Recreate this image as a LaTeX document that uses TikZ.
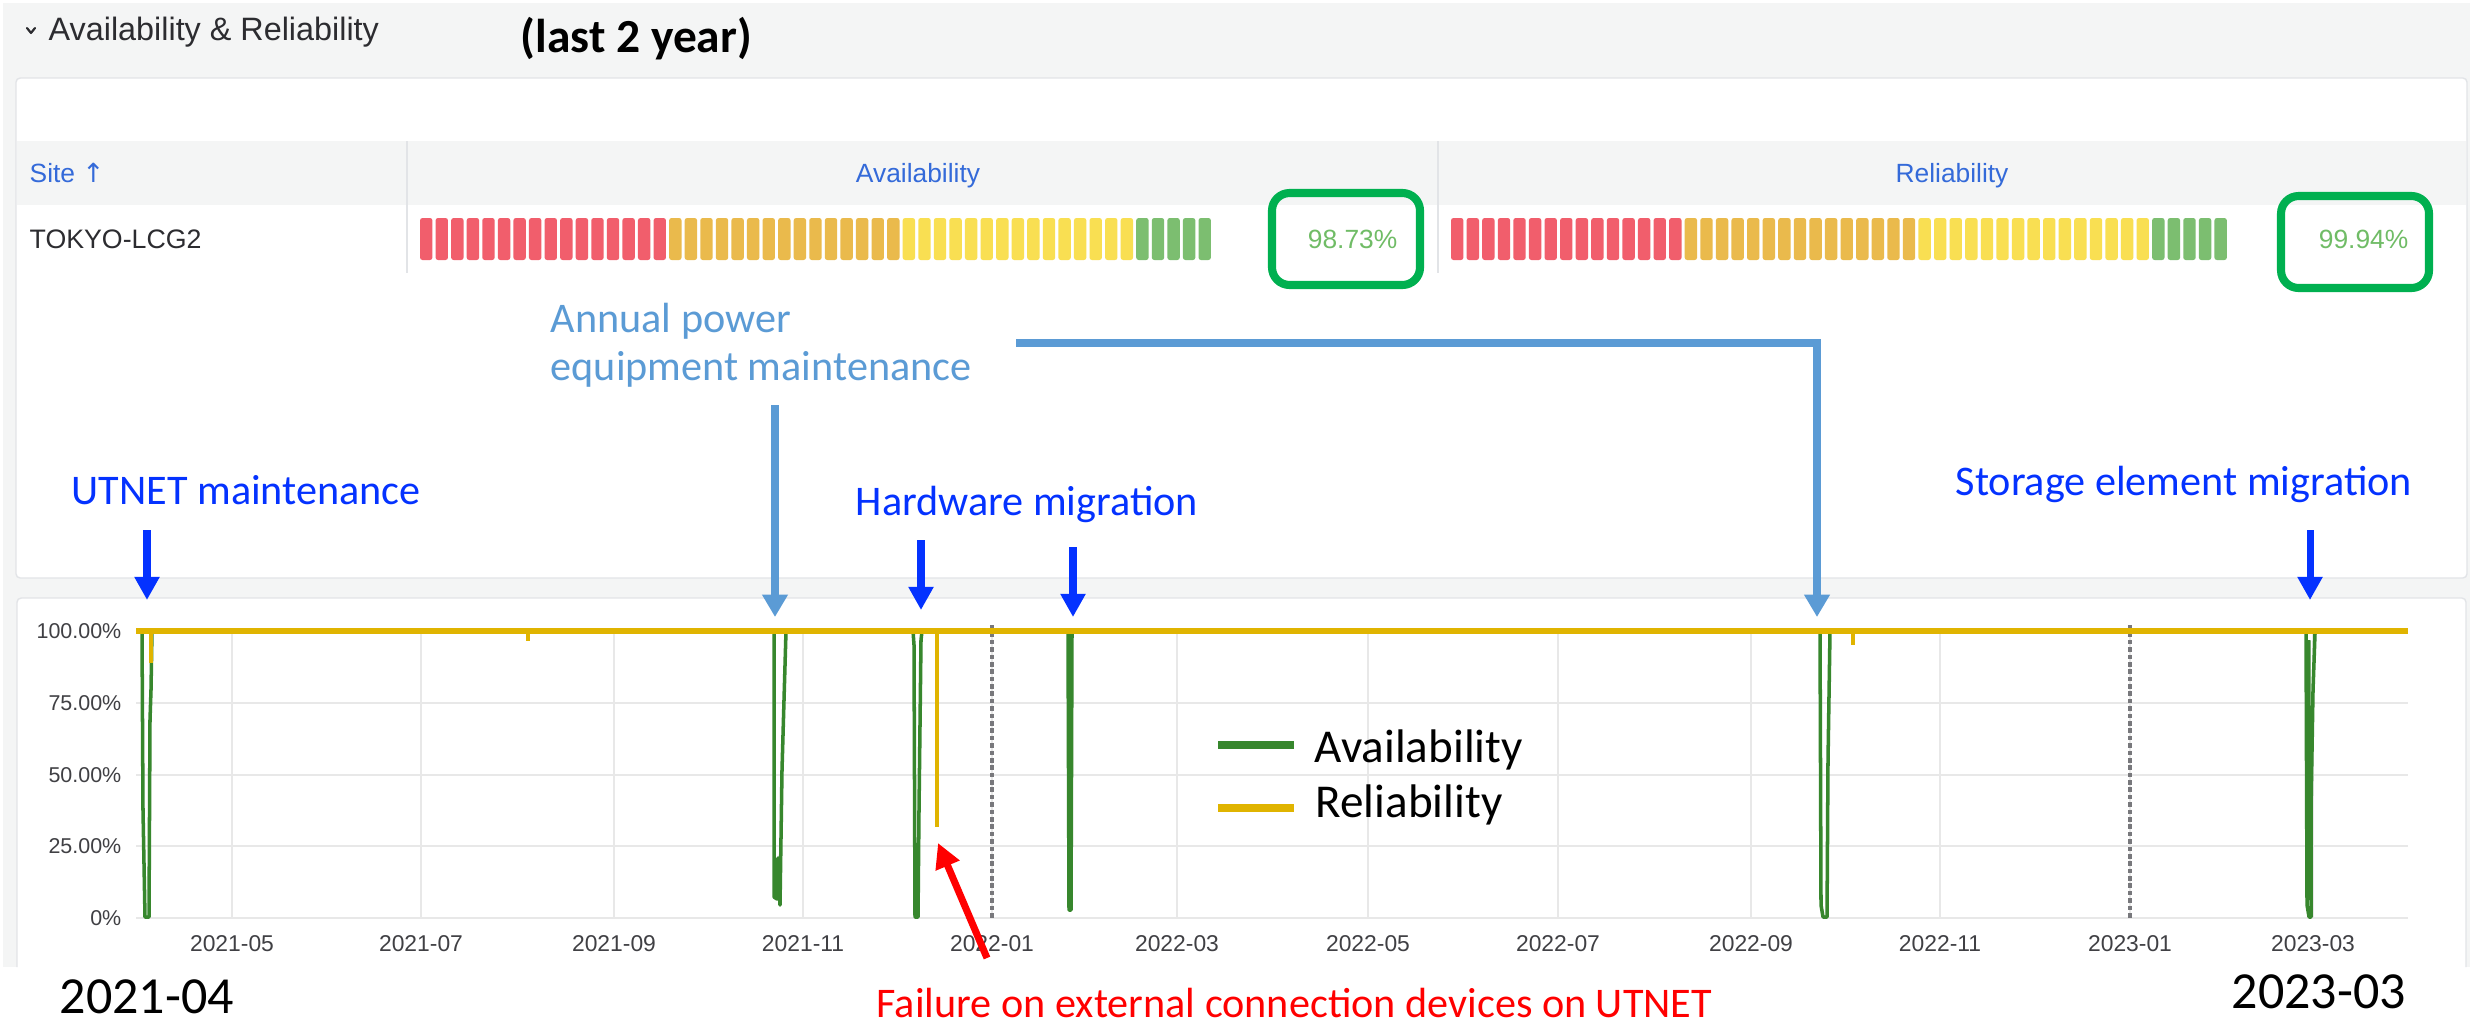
\documentclass[tikz,border=0pt]{standalone}
\usepackage{fontspec}
\setmainfont{Carlito}
\newfontfamily\uifont{Liberation Sans}
\newfontfamily\symfont{DejaVu Sans}
\usetikzlibrary{arrows.meta}

\definecolor{uibg}{RGB}{244,245,245}
\definecolor{panelline}{RGB}{226,228,231}
\definecolor{uitext}{RGB}{44,44,48}
\definecolor{uiblue}{RGB}{52,106,217}
\definecolor{axistext}{RGB}{64,64,68}
\definecolor{gridgrey}{RGB}{232,232,232}
\definecolor{yeargrey}{RGB}{120,120,124}
\definecolor{pctgreen}{RGB}{112,188,102}
\definecolor{cellred}{RGB}{241,94,108}
\definecolor{cellorange}{RGB}{234,186,76}
\definecolor{cellyellow}{RGB}{249,223,82}
\definecolor{cellgreen}{RGB}{124,190,112}
\definecolor{availgreen}{RGB}{55,135,45}
\definecolor{reliyellow}{RGB}{224,180,0}
\definecolor{annblue}{RGB}{4,50,255}
\definecolor{annlight}{RGB}{91,155,213}
\definecolor{annred}{RGB}{255,0,0}
\definecolor{boxgreen}{RGB}{0,176,80}

\begin{document}
\begin{tikzpicture}[x=0.01cm,y=-0.01cm,
  ui/.style={font=\uifont\fontsize{#1}{#1}\selectfont,inner sep=0pt},
  panel/.style={draw=panelline,line width=0.4pt,fill=white,rounded corners=1.2pt},
  sepline/.style={draw=panelline,line width=0.5pt},
  cell/.style={rounded corners=0.7pt},
  ybox/.style={draw=boxgreen,line width=2.3pt,rounded corners=5pt},
  grid/.style={draw=gridgrey,line width=0.45pt},
  yearmark/.style={draw=yeargrey,line width=1.1pt,dash pattern=on 1.3pt off 0.8pt},
  avail/.style={draw=availgreen,line width=1pt,line join=round},
  reli/.style={draw=reliyellow,line width=1.45pt},
  ann/.style={font=\fontsize{12}{14}\selectfont,inner sep=0pt,anchor=base west},
  bluearrow/.style={draw=annblue,line width=2pt,-{Triangle[length=6.6pt,width=6.8pt]}},
  lightarrow/.style={draw=annlight,line width=2.1pt,line join=miter,-{Triangle[length=6.4pt,width=7pt]}},
  redarrow/.style={draw=annred,line width=2pt,-{Triangle[length=7pt,width=7pt]}},
  legline/.style={line width=2pt},
  bigdate/.style={font=\fontsize{14.8}{16}\selectfont,inner sep=0pt,anchor=base west}
]
\useasboundingbox (0,0) rectangle (2476,1024);
\fill[white] (0,0) rectangle (2476,1024);

% dashboard background
\fill[uibg] (3,3) rectangle (2470,967);

% section title row
\draw[uitext,line width=0.6pt,line cap=round,line join=round] (27,28) -- (31,33) -- (35,28);
\node[ui=9.2,text=uitext,anchor=base west] (title) at (48,41) {Availability \& Reliability};
\node[font=\bfseries\fontsize{13.5}{15}\selectfont,inner sep=0pt,anchor=base west] (period) at (520,52) {(last 2 year)};

% table panel
\path[panel] (16,78) rectangle (2467,578);
\fill[uibg] (17,141) rectangle (2466,205);
\draw[sepline] (407,141) -- (407,273);
\draw[sepline] (1438,141) -- (1438,273);
\node[ui=7.5,text=uiblue,anchor=base west] (hsite) at (29,182) {Site {\symfont ↑}};
\node[ui=7.5,text=uiblue,anchor=base] (havail) at (918,182) {Availability};
\node[ui=7.5,text=uiblue,anchor=base] (hreli) at (1952,182) {Reliability};
\node[ui=7.6,text=uitext,anchor=base west] (site) at (29,248) {TOKYO-LCG2};

% availability gauge cells
\foreach \i in {0,...,15} \fill[cell,cellred] ({420+\i*15.57},218) rectangle ++(12.4,42);
\foreach \i in {16,...,30} \fill[cell,cellorange] ({420+\i*15.57},218) rectangle ++(12.4,42);
\foreach \i in {31,...,45} \fill[cell,cellyellow] ({420+\i*15.57},218) rectangle ++(12.4,42);
\foreach \i in {46,...,50} \fill[cell,cellgreen] ({420+\i*15.57},218) rectangle ++(12.4,42);
\node[ui=7.5,text=pctgreen,anchor=base east] (pavail) at (1398,248) {98.73\%};

% reliability gauge cells
\foreach \i in {0,...,14} \fill[cell,cellred] ({1451+\i*15.58},218) rectangle ++(12.4,42);
\foreach \i in {15,...,29} \fill[cell,cellorange] ({1451+\i*15.58},218) rectangle ++(12.4,42);
\foreach \i in {30,...,44} \fill[cell,cellyellow] ({1451+\i*15.58},218) rectangle ++(12.4,42);
\foreach \i in {45,...,49} \fill[cell,cellgreen] ({1451+\i*15.58},218) rectangle ++(12.4,42);
\node[ui=7.5,text=pctgreen,anchor=base east] (preli) at (2409,248) {99.94\%};

% highlight frames round the two totals
\draw[ybox] (1272,193) rectangle (1420,285);
\draw[ybox] (2281,196) rectangle (2429,288);

% time-series panel
\path[panel] (17,967) |- (2466,598) -- (2466,967);

% horizontal grid and y labels
\foreach \yy/\lab in {631/100.00\%,703/75.00\%,775/50.00\%,846/25.00\%,918/0\%}{
  \draw[grid] (136,\yy) -- (2408,\yy);
  \node[ui=6.1,text=axistext,anchor=east] at (122,\yy) {\lab};
}
% vertical grid and x labels
\foreach \xx/\lab in {232/2021-05,421/2021-07,614/2021-09,803/2021-11,992/2022-01,1177/2022-03,
                     1368/2022-05,1558/2022-07,1751/2022-09,1940/2022-11,2130/2023-01,2313/2023-03}{
  \draw[grid] (\xx,631) -- (\xx,918);
  \node[ui=6.5,text=axistext] at (\xx,944) {\lab};
}
% year boundaries
\draw[yearmark] (992,625) -- (992,918);
\draw[yearmark] (2130,625) -- (2130,918);

% availability series (dips only; the flat part lies under the reliability line)
\draw[avail] (142,631) -- (143,810) -- (145,917) -- (149,917) -- (150,720) -- (151,690) -- (152,631);
\draw[avail] (774,631) -- (774,897) -- (777,899) -- (778,858) -- (780,905) -- (782,770) -- (784,700) -- (786,631);
\draw[avail] (913,631) -- (914,645) -- (915,917) -- (918,917) -- (919,810) -- (921,640) -- (922,631);
\draw[avail] (1068,631) -- (1069,910) -- (1071,910) -- (1072,631);
\draw[avail] (1820,631) -- (1821,905) -- (1823,917) -- (1827,917) -- (1828,760) -- (1830,631);
\draw[avail] (2306,631) -- (2307,905) -- (2309,917) -- (2311,917) -- (2311,808) -- (2313,690) -- (2315,633);
\draw[avail,line width=1.4pt] (2308,640) -- (2309,900);

% reliability series
\draw[reli] (136,631) -- (2408,631);
\draw[reli,line width=1.1pt] (151,631) -- (151,663);
\draw[reli,line width=1.1pt] (528,631) -- (528,641);
\draw[reli,line width=1.1pt] (937,631) -- (937,827);
\draw[reli,line width=1.1pt] (1853,631) -- (1853,645);

% legend
\coordinate (legA1) at (1218,745); \coordinate (legA2) at (1294,745);
\coordinate (legR1) at (1218,808); \coordinate (legR2) at (1294,808);
\draw[legline,availgreen] (legA1) -- (legA2);
\draw[legline,reliyellow] (legR1) -- (legR2);
\node[font=\fontsize{13.4}{15}\selectfont,inner sep=0pt,anchor=base west] (legA) at (1314,762) {Availability};
\node[font=\fontsize{13.4}{15}\selectfont,inner sep=0pt,anchor=base west] (legR) at (1315,817) {Reliability};

% annotations
\node[ann,text=annlight] (power1) at (550,332) {Annual power};
\node[ann,text=annlight] (power2) at (550,380) {equipment maintenance};
\node[ann,text=annblue] (utnet) at (71,504) {UTNET maintenance};
\node[ann,text=annblue] (hwmig) at (855,515) {Hardware migration};
\node[ann,text=annblue] (semig) at (1955,495) {Storage element migration};
\node[ann,text=annred] (failure) at (876,1017) {Failure on external connection devices on UTNET};
\node[bigdate] (dstart) at (59,1013) {2021-04};
\node[bigdate] (dend) at (2231,1008) {2023-03};

\coordinate (utFrom) at (147,530);   \coordinate (utTo) at (147,600);
\coordinate (hwFromA) at (921,540);  \coordinate (hwToA) at (921,610);
\coordinate (hwFromB) at (1073,547); \coordinate (hwToB) at (1073,617);
\coordinate (seFrom) at (2310,530);  \coordinate (seTo) at (2310,600);
\coordinate (pwFromA) at (775,405);  \coordinate (pwToA) at (775,617);
\coordinate (pwFromB) at (1016,343); \coordinate (pwToB) at (1817,617);
\coordinate (flFrom) at (987,958);   \coordinate (flTo) at (938,843);

\draw[bluearrow] (utFrom) -- (utTo);
\draw[bluearrow] (hwFromA) -- (hwToA);
\draw[bluearrow] (hwFromB) -- (hwToB);
\draw[bluearrow] (seFrom) -- (seTo);
\draw[lightarrow] (pwFromA) -- (pwToA);
\draw[lightarrow] (pwFromB) -| (pwToB);
\draw[redarrow] (flFrom) -- (flTo);
\end{tikzpicture}
\end{document}
